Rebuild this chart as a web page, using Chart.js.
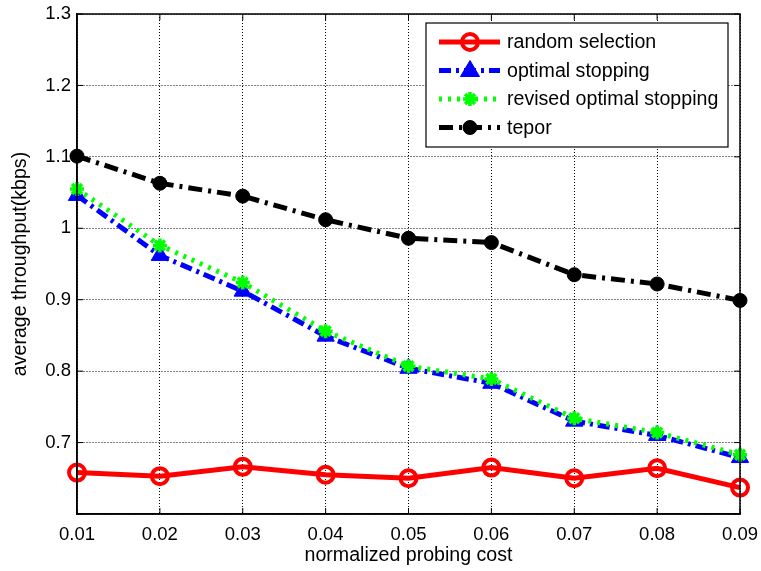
<!DOCTYPE html>
<html>
<head>
<meta charset="utf-8">
<script src="https://cdn.jsdelivr.net/npm/chart.js@4/dist/chart.umd.min.js"></script>
<style>
  html, body { margin: 0; padding: 0; background: #fff; }
  #wrap { width: 761px; height: 571px; }
</style>
</head>
<body>
<div id="wrap"><canvas id="throughputChart" width="761" height="571"></canvas></div>
<script>
// values
const costLabels = ['0.01', '0.02', '0.03', '0.04', '0.05', '0.06', '0.07', '0.08', '0.09'];
const randomSelection = [0.658, 0.653, 0.666, 0.655, 0.650, 0.665, 0.650, 0.664, 0.637];
const optimalStopping = [1.046, 0.962, 0.912, 0.849, 0.804, 0.783, 0.730, 0.710, 0.679];
const revisedStopping = [1.055, 0.976, 0.924, 0.856, 0.807, 0.789, 0.734, 0.714, 0.683];
const teporValues = [1.101, 1.063, 1.045, 1.012, 0.986, 0.980, 0.935, 0.922, 0.899];
const seriesNames = ['random selection', 'optimal stopping', 'revised optimal stopping', 'tepor'];

const FONT = 'Arial, "Liberation Sans", sans-serif';

// draw one legend marker
function drawMarker(ctx, ds, x, y) {
    const r = ds.pointRadius;
    ctx.save();
    ctx.setLineDash([]);
    ctx.lineWidth = ds.pointBorderWidth;
    ctx.strokeStyle = ds.borderColor;
    ctx.fillStyle = ds.pointBackgroundColor;
    ctx.beginPath();
    if (ds.pointStyle === 'circle') {
        ctx.arc(x, y, r, 0, Math.PI * 2);
        ctx.fill();
        ctx.stroke();
    } else if (ds.pointStyle === 'triangle') {
        ctx.moveTo(x, y - r);
        ctx.lineTo(x + r * 0.95, y + r * 0.6);
        ctx.lineTo(x - r * 0.95, y + r * 0.6);
        ctx.closePath();
        ctx.fill();
        ctx.stroke();
    } else if (ds.pointStyle === 'star') {
        ctx.moveTo(x - r, y); ctx.lineTo(x + r, y);
        ctx.moveTo(x, y - r); ctx.lineTo(x, y + r);
        const d = r * 0.707;
        ctx.moveTo(x - d, y - d); ctx.lineTo(x + d, y + d);
        ctx.moveTo(x - d, y + d); ctx.lineTo(x + d, y - d);
        ctx.stroke();
    }
    ctx.restore();
}

// full box, inner tick marks and legend, matlab style
const matlabFrame = {
    id: 'matlabFrame',
    afterDatasetsDraw(chart) {
        const ctx = chart.ctx;
        const a = chart.chartArea;
        const xs = chart.scales.x, ys = chart.scales.y;
        ctx.save();
        ctx.strokeStyle = '#000';
        ctx.lineWidth = 1.5;
        ctx.setLineDash([]);
        ctx.strokeRect(a.left, a.top, a.right - a.left, a.bottom - a.top);
        ctx.lineWidth = 1;
        ctx.beginPath();
        xs.ticks.forEach((t, i) => {
            const px = xs.getPixelForTick(i);
            ctx.moveTo(px, a.bottom); ctx.lineTo(px, a.bottom - 6);
            ctx.moveTo(px, a.top); ctx.lineTo(px, a.top + 6);
        });
        ys.ticks.forEach((t, i) => {
            const py = ys.getPixelForTick(i);
            ctx.moveTo(a.left, py); ctx.lineTo(a.left + 6, py);
            ctx.moveTo(a.right, py); ctx.lineTo(a.right - 6, py);
        });
        ctx.stroke();

        // legend box
        const bx = a.left + 349, by = a.top + 9, bw = 302, bh = 124;
        ctx.fillStyle = '#fff';
        ctx.fillRect(bx, by, bw, bh);
        ctx.lineWidth = 1.2;
        ctx.strokeRect(bx, by, bw, bh);
        ctx.font = '19.6px ' + FONT;
        ctx.textBaseline = 'middle';
        chart.data.datasets.forEach((ds, i) => {
            const ry = by + 19 + i * 28.5;
            ctx.save();
            ctx.strokeStyle = ds.borderColor;
            ctx.lineWidth = ds.borderWidth;
            ctx.setLineDash(ds.borderDash || []);
            ctx.beginPath();
            ctx.moveTo(bx + 13, ry);
            ctx.lineTo(bx + 74, ry);
            ctx.stroke();
            ctx.restore();
            drawMarker(ctx, ds, bx + 44, ry);
            ctx.fillStyle = '#000';
            ctx.fillText(ds.label, bx + 81, ry + 1);
        });
        ctx.restore();
    }
};

const ctx = document.getElementById('throughputChart').getContext('2d');
const throughputChart = new Chart(ctx, {
    type: 'line',
    data: {
        labels: costLabels,
        datasets: [{
            label: seriesNames[0],
            data: randomSelection,
            borderColor: '#ff0000',
            borderWidth: 5,
            pointStyle: 'circle',
            pointRadius: 8,
            pointBorderWidth: 4,
            pointBackgroundColor: 'rgba(0,0,0,0)',
            order: 4
        }, {
            label: seriesNames[1],
            data: optimalStopping,
            borderColor: '#0000ff',
            borderWidth: 5,
            borderDash: [12, 5, 3, 5],
            pointStyle: 'triangle',
            pointRadius: 10,
            pointBorderWidth: 1,
            pointBackgroundColor: '#0000ff',
            order: 3
        }, {
            label: seriesNames[2],
            data: revisedStopping,
            borderColor: '#00ff00',
            borderWidth: 5,
            borderDash: [3, 6],
            pointStyle: 'star',
            pointRadius: 7,
            pointBorderWidth: 3.5,
            pointBackgroundColor: '#00ff00',
            order: 2
        }, {
            label: seriesNames[3],
            data: teporValues,
            borderColor: '#000000',
            borderWidth: 5,
            borderDash: [14, 6, 3, 6],
            pointStyle: 'circle',
            pointRadius: 7,
            pointBorderWidth: 1,
            pointBackgroundColor: '#000000',
            order: 1
        }]
    },
    options: {
        responsive: false,
        animation: false,
        clip: false,
        layout: {
            padding: { left: 0, top: 14, right: 21, bottom: 0 }
        },
        elements: {
            line: { tension: 0, fill: false }
        },
        plugins: {
            legend: { display: false },
            tooltip: { enabled: false }
        },
        scales: {
            x: {
                offset: false,
                grid: { color: '#000', lineWidth: 1, drawTicks: false },
                border: { display: true, color: '#000', width: 1.5, dash: [1, 2] },
                ticks: {
                    color: '#000',
                    font: { family: FONT, size: 18.5 },
                    padding: 10,
                    maxRotation: 0
                },
                title: {
                    display: true,
                    text: 'normalized probing cost',
                    color: '#000',
                    font: { family: FONT, size: 19.6 },
                    padding: { top: 0, bottom: 4 }
                },
                afterFit(scale) {
                    scale.height = 57;
                    scale.paddingLeft = 0;
                    scale.paddingRight = 0;
                }
            },
            y: {
                min: 0.6,
                max: 1.3,
                grid: { color: '#000', lineWidth: 1, drawTicks: false },
                border: { display: true, color: '#000', width: 1.5, dash: [1, 2] },
                ticks: {
                    stepSize: 0.1,
                    color: '#000',
                    font: { family: FONT, size: 18.5 },
                    padding: 6,
                    callback: function(v) {
                        if (Math.abs(v - 0.6) < 1e-6) return '';
                        return String(Math.round(v * 10) / 10);
                    }
                },
                title: {
                    display: true,
                    text: 'average throughput(kbps)',
                    color: '#000',
                    font: { family: FONT, size: 19.6 },
                    padding: { top: 9, bottom: 0 }
                },
                afterFit(scale) {
                    scale.width = 77;
                    scale.paddingTop = 0;
                    scale.paddingBottom = 0;
                }
            }
        }
    },
    plugins: [matlabFrame]
});
</script>
</body>
</html>
